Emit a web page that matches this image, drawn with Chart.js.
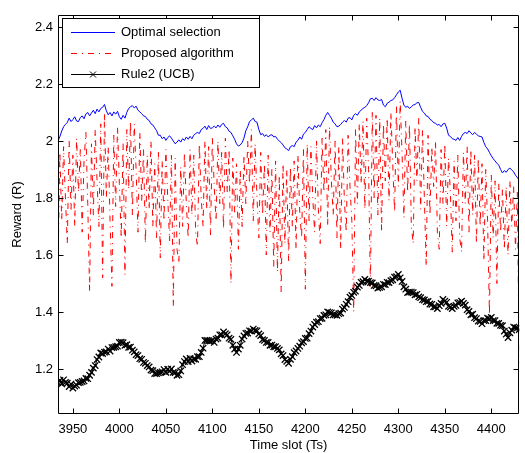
<!DOCTYPE html>
<html>
<head>
<meta charset="utf-8">
<script src="https://cdn.jsdelivr.net/npm/chart.js@4/dist/chart.umd.min.js"></script>
<style>
html,body{margin:0;padding:0;background:#fff;}
canvas{display:block;}
</style>
</head>
<body>
<canvas id="c" width="525" height="453"></canvas>
<script>
const timeSlots = [
3934,3936,3938,3940,3942,3944,3946,3948,3950,3952,3954,3956,3958,3960,3962,3964,3966,3968,3970,3972,
3974,3976,3978,3980,3982,3984,3986,3988,3990,3992,3994,3996,3998,4000,4002,4004,4006,4008,4010,4012,
4014,4016,4018,4020,4022,4024,4026,4028,4030,4032,4034,4036,4038,4040,4042,4044,4046,4048,4050,4052,
4054,4056,4058,4060,4062,4064,4066,4068,4070,4072,4074,4076,4078,4080,4082,4084,4086,4088,4090,4092,
4094,4096,4098,4100,4102,4104,4106,4108,4110,4112,4114,4116,4118,4120,4122,4124,4126,4128,4130,4132,
4134,4136,4138,4140,4142,4144,4146,4148,4150,4152,4154,4156,4158,4160,4162,4164,4166,4168,4170,4172,
4174,4176,4178,4180,4182,4184,4186,4188,4190,4192,4194,4196,4198,4200,4202,4204,4206,4208,4210,4212,
4214,4216,4218,4220,4222,4224,4226,4228,4230,4232,4234,4236,4238,4240,4242,4244,4246,4248,4250,4252,
4254,4256,4258,4260,4262,4264,4266,4268,4270,4272,4274,4276,4278,4280,4282,4284,4286,4288,4290,4292,
4294,4296,4298,4300,4302,4304,4306,4308,4310,4312,4314,4316,4318,4320,4322,4324,4326,4328,4330,4332,
4334,4336,4338,4340,4342,4344,4346,4348,4350,4352,4354,4356,4358,4360,4362,4364,4366,4368,4370,4372,
4374,4376,4378,4380,4382,4384,4386,4388,4390,4392,4394,4396,4398,4400,4402,4404,4406,4408,4410,4412,
4414,4416,4418,4420,4422,4424,4426,4428,4430];

const optimalSelection = [
2.000,2.015,2.035,2.050,2.058,2.065,2.080,2.068,2.075,2.085,2.070,2.068,2.082,2.088,2.078,2.095,2.100,2.088,2.098,2.108,
2.096,2.112,2.102,2.114,2.118,2.128,2.106,2.092,2.100,2.088,2.102,2.094,2.104,2.085,2.076,2.090,2.080,2.100,2.114,2.120,
2.124,2.116,2.122,2.108,2.102,2.096,2.088,2.086,2.076,2.072,2.060,2.056,2.046,2.036,2.020,2.020,2.008,2.014,2.002,2.012,
2.018,2.010,2.000,1.990,1.996,2.004,1.996,2.008,2.002,2.014,2.006,2.016,2.008,2.020,2.026,2.030,2.026,2.040,2.044,2.052,
2.040,2.054,2.044,2.046,2.052,2.046,2.056,2.048,2.058,2.062,2.050,2.046,2.034,2.030,2.018,2.006,1.990,1.982,1.986,1.994,
2.010,2.036,2.050,2.068,2.074,2.080,2.068,2.066,2.040,2.022,2.026,2.016,2.022,2.014,2.020,2.022,2.014,2.016,2.006,2.000,
1.994,1.986,1.976,1.972,1.966,1.980,1.984,1.980,1.996,2.002,2.014,2.006,2.024,2.030,2.040,2.050,2.044,2.040,2.054,2.046,
2.056,2.050,2.064,2.075,2.090,2.100,2.090,2.080,2.066,2.060,2.050,2.052,2.058,2.066,2.072,2.066,2.080,2.082,2.074,2.090,
2.096,2.090,2.102,2.108,2.114,2.118,2.124,2.134,2.148,2.150,2.142,2.152,2.144,2.142,2.146,2.126,2.120,2.132,2.136,2.142,
2.144,2.152,2.162,2.172,2.178,2.150,2.126,2.118,2.122,2.114,2.120,2.126,2.128,2.134,2.135,2.118,2.104,2.098,2.088,2.086,
2.076,2.072,2.064,2.062,2.056,2.058,2.050,2.060,2.062,2.045,2.020,2.016,2.008,2.006,2.002,2.012,2.002,2.016,2.026,2.030,
2.026,2.036,2.028,2.022,2.030,2.024,2.018,2.016,2.014,1.995,1.980,1.972,1.960,1.948,1.938,1.930,1.922,1.915,1.900,1.888,
1.896,1.890,1.900,1.905,1.898,1.892,1.880,1.872,1.862];

const proposedAlgorithm = [
1.55,1.96,1.72,1.98,1.80,1.64,2.00,1.76,1.95,1.70,2.01,1.82,1.97,1.68,1.93,2.03,1.78,1.47,1.99,1.74,
2.04,1.86,1.70,2.06,1.52,2.10,1.80,1.98,1.72,1.49,2.02,1.77,2.05,1.85,1.66,1.99,1.53,2.04,1.83,2.07,
1.74,2.06,1.90,1.68,2.03,1.79,1.97,1.64,1.95,1.76,2.00,1.70,1.92,1.66,1.96,1.59,1.93,1.72,1.97,1.80,
1.65,1.95,1.42,1.94,1.62,1.57,1.91,1.70,1.96,1.78,1.66,1.97,1.74,1.95,1.68,1.63,1.99,1.80,1.70,2.00,
1.76,1.98,1.67,2.01,1.84,1.72,2.00,1.78,1.96,1.69,2.01,1.82,1.97,1.50,1.94,1.75,1.92,1.62,1.90,1.70,
1.95,1.78,2.00,1.85,2.04,1.72,1.99,1.80,1.66,1.96,1.74,1.92,1.60,1.95,1.68,1.90,1.56,1.93,1.54,1.88,
1.47,1.92,1.64,1.90,1.58,1.91,1.70,1.93,1.62,1.95,1.75,1.66,1.97,1.48,1.99,1.72,1.98,1.80,1.68,2.00,
1.76,1.64,2.01,1.82,2.04,1.70,2.05,1.86,1.74,2.00,1.66,1.98,1.62,2.01,1.79,1.68,2.02,1.84,1.72,1.40,
2.04,1.78,2.06,1.85,2.07,1.76,2.08,1.90,1.49,2.10,1.80,2.09,1.74,2.08,1.68,2.06,1.86,2.08,1.79,2.10,
1.92,1.75,2.12,1.84,2.14,1.96,1.73,2.07,1.82,2.06,1.70,1.64,2.05,1.86,2.08,1.76,2.04,1.80,1.56,2.02,
1.74,1.98,1.84,2.00,1.68,1.62,1.97,1.78,1.99,1.70,1.94,1.82,1.61,1.93,1.72,1.95,1.66,1.61,1.96,1.78,
1.98,1.68,1.97,1.74,1.95,1.64,1.94,1.70,1.92,1.58,1.90,1.72,1.39,1.88,1.66,1.86,1.50,1.85,1.68,1.83,
1.62,1.84,1.60,1.86,1.70,1.84,1.62,1.82,1.22];

const rule2UCB = [
1.152,1.160,1.148,1.162,1.153,1.150,1.138,1.147,1.133,1.140,1.143,1.152,1.153,1.156,1.158,1.167,1.166,1.178,1.188,1.203,
1.212,1.233,1.242,1.256,1.254,1.259,1.260,1.270,1.263,1.275,1.276,1.278,1.280,1.293,1.294,1.292,1.283,1.285,1.276,1.277,
1.266,1.260,1.250,1.247,1.236,1.234,1.223,1.220,1.212,1.207,1.196,1.194,1.184,1.184,1.186,1.188,1.190,1.198,1.188,1.199,
1.192,1.200,1.188,1.187,1.178,1.180,1.193,1.215,1.226,1.235,1.226,1.237,1.228,1.235,1.234,1.243,1.243,1.258,1.273,1.300,
1.300,1.299,1.298,1.300,1.293,1.305,1.308,1.320,1.320,1.330,1.324,1.320,1.308,1.304,1.283,1.270,1.258,1.270,1.283,1.305,
1.316,1.325,1.326,1.334,1.333,1.340,1.335,1.334,1.323,1.317,1.303,1.300,1.293,1.293,1.283,1.284,1.278,1.278,1.272,1.267,
1.253,1.247,1.233,1.227,1.220,1.234,1.243,1.257,1.263,1.272,1.280,1.292,1.296,1.307,1.308,1.324,1.333,1.347,1.356,1.364,
1.366,1.377,1.378,1.388,1.390,1.400,1.398,1.397,1.390,1.390,1.388,1.394,1.396,1.410,1.416,1.427,1.436,1.452,1.458,1.469,
1.473,1.487,1.493,1.504,1.506,1.514,1.508,1.508,1.503,1.502,1.493,1.492,1.484,1.486,1.488,1.497,1.496,1.504,1.503,1.510,
1.513,1.522,1.524,1.532,1.520,1.507,1.488,1.480,1.468,1.470,1.470,1.468,1.460,1.462,1.453,1.450,1.443,1.442,1.436,1.437,
1.428,1.427,1.418,1.418,1.412,1.422,1.430,1.444,1.438,1.434,1.420,1.417,1.412,1.420,1.423,1.432,1.433,1.438,1.430,1.424,
1.408,1.402,1.390,1.392,1.380,1.377,1.368,1.367,1.359,1.370,1.370,1.378,1.376,1.381,1.370,1.370,1.360,1.360,1.353,1.352,
1.333,1.322,1.310,1.327,1.336,1.347,1.345,1.344,1.338];

const xTickValues = [3950, 4000, 4050, 4100, 4150, 4200, 4250, 4300, 4350, 4400];
const yTickValues = [1.2, 1.4, 1.6, 1.8, 2.0, 2.2, 2.4];
const seriesNames = ['Optimal selection', 'Proposed algorithm', 'Rule2 (UCB)'];

const FONT = "'Liberation Sans', Arial, Helvetica, sans-serif";
Chart.defaults.font.family = FONT;
Chart.defaults.font.size = 13;
Chart.defaults.color = '#000';

const RED_DASH = [6, 5, 1, 5];
const pts = arr => timeSlots.map((t, i) => ({x: t, y: arr[i]}));

const boxPlugin = {
  id: 'matlabBox',
  afterDatasetsDraw(chart) {
    const {ctx, chartArea: a, scales} = chart;
    const L = Math.round(a.left) + 0.5, R = Math.round(a.right) - 0.5;
    const T = Math.round(a.top) + 0.5, B = Math.round(a.bottom) - 0.5;
    ctx.save();
    ctx.strokeStyle = '#000';
    ctx.lineWidth = 1;
    ctx.beginPath();
    ctx.rect(L, T, R - L, B - T);
    ctx.stroke();
    const tl = 5;
    ctx.beginPath();
    xTickValues.forEach(v => {
      const px = Math.round(scales.x.getPixelForValue(v)) + 0.5;
      ctx.moveTo(px, B); ctx.lineTo(px, B - tl);
      ctx.moveTo(px, T); ctx.lineTo(px, T + tl);
    });
    yTickValues.forEach(v => {
      const py = Math.round(scales.y.getPixelForValue(v)) + 0.5;
      ctx.moveTo(L, py); ctx.lineTo(L + tl, py);
      ctx.moveTo(R, py); ctx.lineTo(R - tl, py);
    });
    ctx.stroke();

    // legend
    const lx = 62.5, ly = 18.5, lw = 197, lh = 69;
    ctx.fillStyle = '#fff';
    ctx.fillRect(lx, ly, lw, lh);
    ctx.strokeStyle = '#000';
    ctx.strokeRect(lx, ly, lw, lh);
    const rows = [32.5, 53.5, 74.5];
    const sampleColors = ['#0000ff', '#ff0000', '#000000'];
    const sampleDash = [[], RED_DASH, []];
    seriesNames.forEach((name, i) => {
      const y = rows[i];
      ctx.save();
      ctx.strokeStyle = sampleColors[i];
      ctx.lineWidth = 1;
      ctx.setLineDash(sampleDash[i]);
      ctx.beginPath();
      ctx.moveTo(71, y); ctx.lineTo(115, y);
      ctx.stroke();
      ctx.restore();
      if (i === 2) {
        ctx.save();
        ctx.strokeStyle = '#000';
        ctx.lineWidth = 1;
        const r = 3;
        ctx.beginPath();
        ctx.moveTo(93 - r, y - r); ctx.lineTo(93 + r, y + r);
        ctx.moveTo(93 - r, y + r); ctx.lineTo(93 + r, y - r);
        ctx.stroke();
        ctx.restore();
      }
      ctx.fillStyle = '#000';
      ctx.font = '13px ' + FONT;
      ctx.textBaseline = 'middle';
      ctx.textAlign = 'left';
      ctx.fillText(name, 121, y);
    });
    ctx.restore();
  }
};

new Chart(document.getElementById('c'), {
  type: 'line',
  data: {
    datasets: [
      {
        label: seriesNames[0], data: pts(optimalSelection),
        borderColor: '#0000ff', borderWidth: 1, pointRadius: 0, order: 2, tension: 0
      },
      {
        label: seriesNames[1], data: pts(proposedAlgorithm),
        borderColor: '#ff0000', borderWidth: 1, borderDash: RED_DASH,
        pointRadius: 0, order: 1, tension: 0
      },
      {
        label: seriesNames[2], data: pts(rule2UCB),
        borderColor: '#000000', borderWidth: 1, pointRadius: 4.5,
        pointStyle: 'crossRot', pointBorderColor: '#000000', pointBorderWidth: 1.3,
        pointBackgroundColor: '#000000', order: 0, tension: 0
      }
    ]
  },
  options: {
    responsive: false,
    animation: false,
    events: [],
    layout: {padding: {top: 15, right: 1, left: 0, bottom: 0}},
    plugins: {legend: {display: false}, tooltip: {enabled: false}},
    scales: {
      x: {
        type: 'linear', min: 3934, max: 4430,
        border: {display: false},
        grid: {display: false, drawTicks: false},
        afterBuildTicks: s => { s.ticks = xTickValues.map(v => ({value: v})); },
        afterFit: s => { s.height = 39; },
        ticks: {padding: 8, maxRotation: 0, autoSkip: false, color: '#000',
                font: {size: 13}, callback: v => String(v)},
        title: {display: true, text: 'Time slot (Ts)', color: '#000',
                font: {size: 13}, padding: {top: 0, bottom: 0}}
      },
      y: {
        type: 'linear', min: 1.042, max: 2.442,
        border: {display: false},
        grid: {display: false, drawTicks: false},
        afterBuildTicks: s => { s.ticks = yTickValues.map(v => ({value: v})); },
        afterFit: s => { s.width = 58; },
        ticks: {padding: 5, autoSkip: false, color: '#000', font: {size: 13},
                callback: v => String(Math.round(v * 10) / 10)},
        title: {display: true, text: 'Reward (R)', color: '#000',
                font: {size: 13}, padding: {top: 10, bottom: 0}}
      }
    }
  },
  plugins: [boxPlugin]
});
</script>
</body>
</html>
